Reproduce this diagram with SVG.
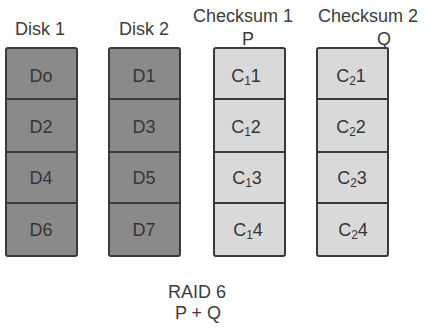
<svg xmlns="http://www.w3.org/2000/svg" width="439" height="329" viewBox="0 0 439 329">
  <style>
    .hdr { font-family: "Liberation Sans", Arial, sans-serif; font-size: 18px; fill: #3c3c3c; text-anchor: middle; }
    .cell { font-family: "Liberation Sans", Arial, sans-serif; font-size: 18px; fill: #353535; text-anchor: middle; }
    .data { fill: #8a8a8a; stroke: #3a3a3a; stroke-width: 2; }
    .sum { fill: #d9d9d9; stroke: #3a3a3a; stroke-width: 2; }
    .div { stroke: #3a3a3a; stroke-width: 2; }
    .sub { font-size: 12px; }
  </style>
  <rect width="439" height="329" fill="#ffffff"/>

  <!-- Data disk 1 -->
  <g id="disk1">
    <text class="hdr" x="40" y="35">Disk 1</text>
    <rect class="data" x="6" y="48" width="71" height="208" rx="2"/>
    <line class="div" x1="6" y1="99" x2="77" y2="99"/>
    <line class="div" x1="6" y1="152" x2="77" y2="152"/>
    <line class="div" x1="6" y1="203" x2="77" y2="203"/>
    <text class="cell" x="41" y="82">Do</text>
    <text class="cell" x="41" y="133">D2</text>
    <text class="cell" x="41" y="184">D4</text>
    <text class="cell" x="41" y="236">D6</text>
  </g>

  <!-- Data disk 2 -->
  <g id="disk2">
    <text class="hdr" x="144" y="35">Disk 2</text>
    <rect class="data" x="109" y="48" width="71" height="208" rx="2"/>
    <line class="div" x1="109" y1="99" x2="180" y2="99"/>
    <line class="div" x1="109" y1="152" x2="180" y2="152"/>
    <line class="div" x1="109" y1="203" x2="180" y2="203"/>
    <text class="cell" x="144" y="82">D1</text>
    <text class="cell" x="144" y="133">D3</text>
    <text class="cell" x="144" y="184">D5</text>
    <text class="cell" x="144" y="236">D7</text>
  </g>

  <!-- Checksum disk P -->
  <g id="checksum1">
    <text class="hdr" x="243" y="22">Checksum 1</text>
    <text class="hdr" x="248" y="45">P</text>
    <rect class="sum" x="214" y="48" width="71" height="208" rx="2"/>
    <line class="div" x1="214" y1="99" x2="285" y2="99"/>
    <line class="div" x1="214" y1="152" x2="285" y2="152"/>
    <line class="div" x1="214" y1="203" x2="285" y2="203"/>
    <text class="cell" x="246" y="82">C<tspan class="sub" dy="3">1</tspan><tspan dy="-3">1</tspan></text>
    <text class="cell" x="246" y="133">C<tspan class="sub" dy="3">1</tspan><tspan dy="-3">2</tspan></text>
    <text class="cell" x="247" y="184">C<tspan class="sub" dy="3">1</tspan><tspan dy="-3">3</tspan></text>
    <text class="cell" x="248" y="236">C<tspan class="sub" dy="3">1</tspan><tspan dy="-3">4</tspan></text>
  </g>

  <!-- Checksum disk Q -->
  <g id="checksum2">
    <text class="hdr" x="368" y="22">Checksum 2</text>
    <text class="hdr" x="384" y="45">Q</text>
    <rect class="sum" x="317" y="48" width="71" height="208" rx="2"/>
    <line class="div" x1="317" y1="99" x2="388" y2="99"/>
    <line class="div" x1="317" y1="152" x2="388" y2="152"/>
    <line class="div" x1="317" y1="203" x2="388" y2="203"/>
    <text class="cell" x="351" y="82">C<tspan class="sub" dy="3">2</tspan><tspan dy="-3">1</tspan></text>
    <text class="cell" x="351" y="133">C<tspan class="sub" dy="3">2</tspan><tspan dy="-3">2</tspan></text>
    <text class="cell" x="352" y="184">C<tspan class="sub" dy="3">2</tspan><tspan dy="-3">3</tspan></text>
    <text class="cell" x="353" y="236">C<tspan class="sub" dy="3">2</tspan><tspan dy="-3">4</tspan></text>
  </g>

  <g id="connectors"></g>

  <!-- Caption -->
  <g id="caption">
    <text class="hdr" x="197" y="298">RAID 6</text>
    <text class="hdr" x="198" y="319">P + Q</text>
  </g>
</svg>
